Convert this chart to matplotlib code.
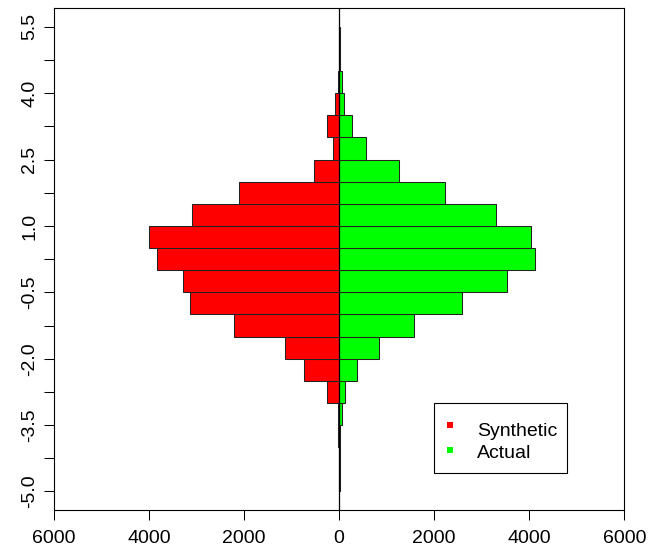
import numpy as np
import matplotlib
matplotlib.use("Agg")
import matplotlib.pyplot as plt
from matplotlib.patches import Rectangle

plt.rcParams['font.family'] = ['Liberation Sans', 'DejaVu Sans']

# bin lower edges (width 0.5), from -5.0 up to 5.0
bin_lower = [-5.0, -4.5, -4.0, -3.5, -3.0, -2.5, -2.0, -1.5, -1.0, -0.5,
             0.0, 0.5, 1.0, 1.5, 2.0, 2.5, 3.0, 3.5, 4.0, 4.5, 5.0]
bin_width = 0.5

synthetic = [10, 10, 15, 20, 250, 742, 1147, 2212, 3143, 3284,
             3836, 3998, 3101, 2107, 523, 132, 250, 90, 15, 10, 10]
actual = [10, 15, 20, 60, 125, 380, 834, 1578, 2592, 3523,
          4120, 4036, 3307, 2235, 1269, 569, 275, 99, 60, 20, 10]

series_names = ["Synthetic", "Actual"]
series_colors = ["#FF0000", "#00FF00"]

x_ticks = [-6000, -4000, -2000, 0, 2000, 4000, 6000]
y_ticks = list(np.round(np.arange(-5.0, 5.5 + 1e-9, 0.75), 2))
y_labels_shown = ["-5.0", "-3.5", "-2.0", "-0.5", "1.0", "2.5", "4.0", "5.5"]

fig = plt.figure(figsize=(6.5, 5.51), dpi=100)
ax = fig.add_axes([54 / 650, 1 - 510 / 551, (624.3 - 54) / 650, (510 - 8.3) / 551])

ax.barh(bin_lower, [-v for v in synthetic], height=bin_width, align='edge',
        color=series_colors[0], edgecolor='#222222', linewidth=0.75)
ax.barh(bin_lower, actual, height=bin_width, align='edge',
        color=series_colors[1], edgecolor='#222222', linewidth=0.75)
ax.axvline(0, color='black', linewidth=0.9, zorder=3)

ax.set_xlim(-6000, 6000)
ax.set_ylim(-5.42, 5.92)

ax.set_xticks(x_ticks)
ax.set_xticklabels([str(abs(v)) for v in x_ticks])
ax.set_yticks(y_ticks)
ylabels = []
for i, t in enumerate(y_ticks):
    ylabels.append(y_labels_shown[i // 2] if i % 2 == 0 else "")
ax.set_yticklabels(ylabels, rotation=90, va='center')

ax.tick_params(axis='both', direction='out', length=7.5, width=0.75,
               labelsize=14, colors='black')
ax.tick_params(axis='x', pad=7)
ax.tick_params(axis='y', pad=4)
for s in ax.spines.values():
    s.set_linewidth(0.8)
    s.set_color('black')

# legend box
ax.add_patch(Rectangle((0.6668, 0.0732), 0.2333, 0.1395, transform=ax.transAxes,
                       facecolor='white', edgecolor='black', linewidth=0.8, zorder=5))
leg_marker_y = [0.1694, 0.1196]
leg_text_y = [0.1475, 0.1031]
for name, col, my, ty in zip(series_names, series_colors, leg_marker_y, leg_text_y):
    ax.plot([0.6944], [my], marker='s', markersize=5, color=col, linestyle='none',
            transform=ax.transAxes, zorder=6, markeredgewidth=0)
    ax.text(0.7412, ty, name, transform=ax.transAxes, fontsize=14, va='baseline',
            ha='left', zorder=6)

fig.savefig("out.png", dpi=100)
